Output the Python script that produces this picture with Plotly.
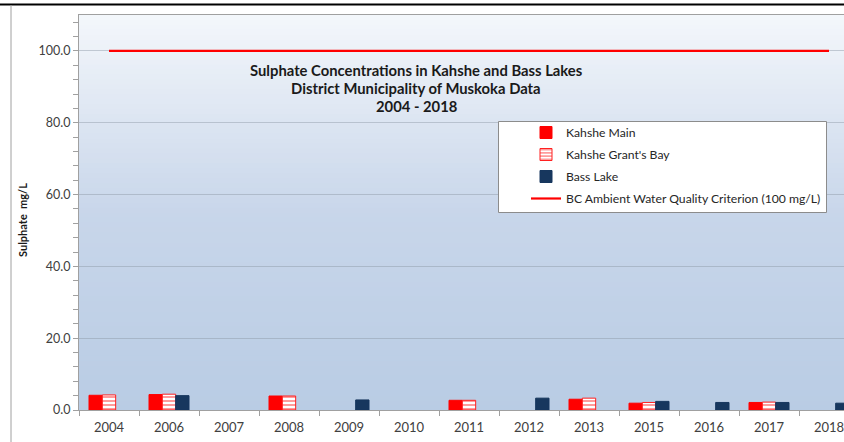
import plotly.graph_objects as go

years = ["2004", "2006", "2007", "2008", "2009", "2010", "2011", "2012", "2013",
         "2015", "2016", "2017", "2018"]
kahshe_main = [4.1, 4.3, None, 3.9, None, None, 2.7, None, 3.0, 1.9, None, 2.1, None]
kahshe_grants_bay = [4.2, 4.4, None, 3.9, None, None, 2.7, None, 3.3, 2.1, None, 2.2, None]
bass_lake = [None, 4.0, None, None, 2.8, None, None, 3.3, None, 2.4, 2.1, 2.1, 1.9]
criterion = [100.0] * len(years)
title_lines = ["Sulphate Concentrations in Kahshe and Bass Lakes",
               "District Municipality of Muskoka Data", "2004 - 2018"]

FONT = "Lato"
fig = go.Figure()

fig.add_trace(go.Bar(x=years, y=kahshe_main, name="Kahshe Main",
                     marker=dict(color="#ff0000", line=dict(color="#ff0000", width=1)),
                     legendgroup="a"))
fig.add_trace(go.Bar(x=years, y=kahshe_grants_bay, name="Kahshe Grant's Bay",
                     marker=dict(color="white", line=dict(color="#ff2020", width=1),
                                 pattern=dict(shape="-", fgcolor="#ff2020", bgcolor="white",
                                              size=4, solidity=0.45)),
                     legendgroup="b"))
fig.add_trace(go.Bar(x=years, y=bass_lake, name="Bass Lake",
                     marker=dict(color="#17375e", line=dict(color="#17375e", width=1)),
                     legendgroup="c"))
fig.add_trace(go.Scatter(x=years, y=criterion, mode="lines",
                         name="BC Ambient Water Quality Criterion (100 mg/L)",
                         line=dict(color="#ff0000", width=2.2), legendgroup="d"))

# gradient background of plot area (overlapping rects, no seams)
top = (244, 247, 251)
mid = (200, 214, 234)
bot = (185, 204, 228)
N = 80
shapes = []
for i in range(N):
    f = (i + 0.5) / N  # 0 bottom -> 1 top
    if f < 0.5:
        t = f / 0.5
        c = tuple(round(bot[k] + (mid[k] - bot[k]) * t) for k in range(3))
    else:
        t = (f - 0.5) / 0.5
        c = tuple(round(mid[k] + (top[k] - mid[k]) * t) for k in range(3))
    shapes.append(dict(type="rect", xref="paper", yref="paper", x0=0, x1=1,
                       y0=i / N, y1=1, fillcolor="rgb(%d,%d,%d)" % c,
                       line=dict(width=0), layer="below"))

W, H = 844, 442
L, R, T, B = 79, 0, 15, 32
pw, ph = W - L - R, H - T - B

def px(x):
    return (x - L) / pw

def py(y):
    return (H - B - y) / ph

# outer frame lines
shapes.append(dict(type="line", xref="paper", yref="paper", x0=px(0), x1=px(844),
                   y0=py(4.5), y1=py(4.5), line=dict(color="black", width=2)))
shapes.append(dict(type="line", xref="paper", yref="paper", x0=px(11), x1=px(11),
                   y0=py(5), y1=py(442), line=dict(color="#a0a0a0", width=1)))
# legend box
shapes.append(dict(type="rect", xref="paper", yref="paper", x0=px(498.5), x1=px(826.5),
                   y0=py(212.5), y1=py(121.5), fillcolor="white",
                   line=dict(color="#8c8c8c", width=1), layer="above"))

annotations = []
for line, yy in zip(title_lines, [70, 88, 106]):
    annotations.append(dict(text="<b>%s</b>" % line, xref="paper", yref="paper",
                            x=px(416), y=py(yy), xanchor="center", yanchor="middle",
                            showarrow=False,
                            font=dict(family=FONT, size=14.8, color="#1a1a1a")))
annotations.append(dict(text="<b>Sulphate  mg/L</b>", textangle=-90, xref="paper",
                        yref="paper", x=px(22), y=py(220), xanchor="center",
                        yanchor="middle", showarrow=False,
                        font=dict(family=FONT, size=11, color="#1a1a1a")))

fig.update_layout(
    width=W, height=H,
    margin=dict(l=L, r=R, t=T, b=B, autoexpand=False),
    paper_bgcolor="white",
    plot_bgcolor="rgba(0,0,0,0)",
    barmode="group", bargap=1/3, bargroupgap=0,
    font=dict(family=FONT, size=12.5, color="#404040"),
    showlegend=True,
    legend=dict(x=px(526), y=py(118), xanchor="left", yanchor="top",
                bgcolor="rgba(0,0,0,0)", borderwidth=0,
                font=dict(family=FONT, size=12.2, color="#262626"),
                traceorder="grouped", tracegroupgap=3, itemwidth=30),
    shapes=shapes,
    annotations=annotations,
)

fig.update_xaxes(type="category", range=[-0.5, 12.25], tickson="boundaries",
                 ticks="outside", ticklen=5, tickcolor="#a0a0a0", automargin=False,
                 ticklabelstandoff=5,
                 showline=True, linecolor="#a0a0a0", linewidth=1, mirror=True,
                 showgrid=False, tickfont=dict(size=13, color="#404040"))
fig.update_yaxes(range=[0, 110], tick0=0, dtick=20, tickformat=".1f", automargin=False,
                 ticks="outside", ticklen=5, tickcolor="#a0a0a0",
                 minor=dict(dtick=4, ticks="outside", ticklen=5, tickcolor="#a0a0a0",
                            showgrid=False),
                 showline=True, linecolor="#a0a0a0", linewidth=1,
                 showgrid=True, gridcolor="rgba(140,150,165,0.45)", gridwidth=1,
                 zeroline=False, tickfont=dict(size=12.5, color="#404040"))

fig.write_html("out.html", config={"displayModeBar": False},
               post_script="document.body.style.margin='0px';"
                           "document.body.style.padding='0px';")
